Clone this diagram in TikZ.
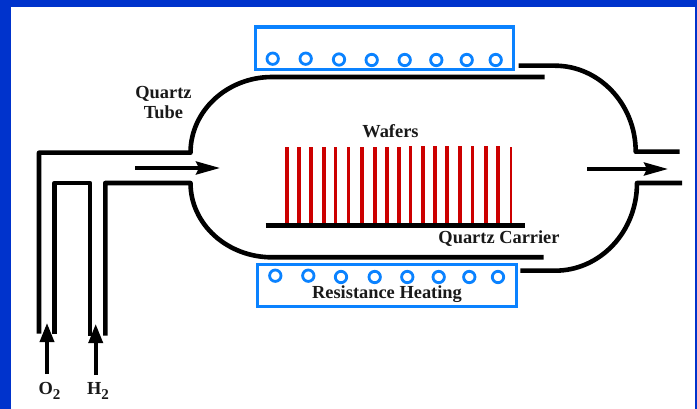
\documentclass[tikz,border=0pt]{standalone}
\usepackage{fontspec}
\setmainfont{Liberation Serif}
\usetikzlibrary{arrows.meta}
\definecolor{frameblue}{RGB}{0,51,204}
\definecolor{coilblue}{RGB}{10,130,255}
\definecolor{waferred}{RGB}{204,0,0}
\newcommand{\gassub}{\raisebox{-4.5pt}{\fontsize{15}{15}\selectfont 2}}
\tikzset{
  tube/.style={line width=4.6pt,line join=round},
  heater/.style={draw=coilblue,line width=3.4pt},
  coil/.style={draw=coilblue,line width=2.8pt},
  wafer/.style={draw=waferred,line width=3.6pt},
  flow/.style={line width=3.6pt,-{Stealth[length=24pt,width=13pt,inset=3pt]}},
  feed/.style={line width=3.6pt,-{Stealth[length=19pt,width=14pt,inset=0pt]}},
  lab/.style={font=\bfseries\fontsize{18.4}{19}\selectfont,inner sep=0pt,text=black!90}
}
\begin{document}
\begin{tikzpicture}[x=1pt,y=-1pt]
\useasboundingbox (0,0) rectangle (697,409);
% frame
  \fill[frameblue] (0,0) rectangle (697,409);
  \fill[white] (11,7) rectangle (695,409);
% top heater
  \draw[heater] (255.5,27) rectangle (513.5,69.5);
  \draw[coil] (272.7,58.7) circle (5.7);
  \draw[coil] (305.7,58.7) circle (5.7);
  \draw[coil] (339,59.5) circle (5.7);
  \draw[coil] (371.7,60) circle (5.7);
  \draw[coil] (404.7,60) circle (5.7);
  \draw[coil] (436.3,60) circle (5.7);
  \draw[coil] (466.7,60) circle (5.7);
  \draw[coil] (495.7,60) circle (5.7);
% bottom heater
  \draw[heater] (257.5,264.3) rectangle (516.5,306.7);
  \draw[coil] (275.3,275.7) circle (5.7);
  \draw[coil] (308.3,275.7) circle (5.7);
  \draw[coil] (341,277) circle (5.7);
  \draw[coil] (374.7,277) circle (5.7);
  \draw[coil] (407.3,277) circle (5.7);
  \draw[coil] (438.7,277) circle (5.7);
  \draw[coil] (469.3,277) circle (5.7);
  \draw[coil] (498,277) circle (5.7);
% inlet and left half of the tube
  \draw[tube] (39,333.5) -- (39,152.7) -- (190.5,152.7) .. controls (190.5,111) and (227,77) .. (272,77) -- (544.7,77);
  \draw[tube] (54.7,333.5) -- (54.7,183) -- (90,183) -- (90,335.7);
  \draw[tube] (105.3,335.7) -- (105.3,183) -- (190.5,183) .. controls (190.5,224) and (227,257.3) .. (272,257.3) -- (543.7,257.3);
% outlet and right half of the tube
  \draw[tube] (518.7,65.7) -- (555,65.7) .. controls (599,65.7) and (635.7,104) .. (635.7,151.7) -- (679.7,151.7);
  \draw[tube] (520.3,270.7) -- (555,270.7) .. controls (600,270.7) and (637,232) .. (637,183) -- (682,183);
% wafers
  \draw[wafer] (286.7,147.3) -- (286.7,225);
  \draw[wafer] (298.7,147.3) -- (298.7,225);
  \draw[wafer] (311,147.3) -- (311,225);
  \draw[wafer] (323.7,147.3) -- (323.7,225);
  \draw[wafer] (335.3,147.3) -- (335.3,225);
  \draw[wafer] (348.3,147.3) -- (348.3,225);
  \draw[wafer] (361.7,147.3) -- (361.7,225);
  \draw[wafer] (375,147.3) -- (375,225);
  \draw[wafer] (387,147.3) -- (387,225);
  \draw[wafer] (398.7,147.3) -- (398.7,225);
  \draw[wafer] (410.3,146.5) -- (410.3,225);
  \draw[wafer] (423,146.5) -- (423,225);
  \draw[wafer] (434.7,146.5) -- (434.7,225);
  \draw[wafer] (447,146.5) -- (447,225);
  \draw[wafer] (460,146.5) -- (460,225);
  \draw[wafer] (472.3,146.5) -- (472.3,225);
  \draw[wafer] (486,146.5) -- (486,225);
  \draw[wafer] (498,146.5) -- (498,225);
  \draw[wafer,line width=2.8pt] (511,147.3) -- (511,225);
% carrier
  \draw[line width=4.8pt] (265.7,225.7) -- (525.3,225.7);
% gas flow
  \draw[flow] (135,168) -- (220,168);
  \draw[flow] (587.3,169) -- (668,169);
  \draw[feed] (47,374) -- (47,323);
  \draw[feed] (95.7,375) -- (95.7,324);
% labels
  \node[lab] (quartz) at (163.5,94) {Quartz};
  \node[lab] (tubelab) at (163.5,112) {Tube};
  \node[lab] (wafers) at (390.5,131) {Wafers};
  \node[lab] (carrier) at (499,239) {Quartz Carrier};
  \node[lab] (heating) at (387,294) {Resistance Heating};
  \node[lab] (oxygen) at (49.5,391) {O\gassub};
  \node[lab] (hydrogen) at (98,391) {H\gassub};
\end{tikzpicture}
\end{document}
